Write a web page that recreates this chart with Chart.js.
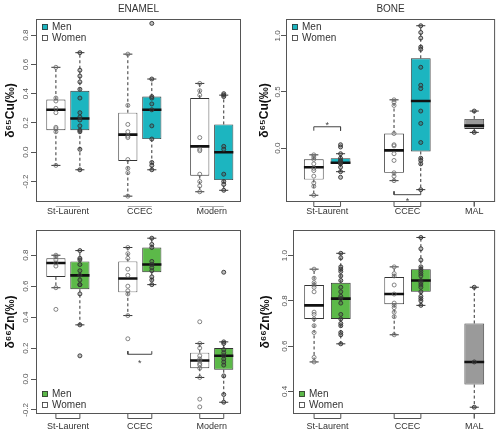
<!DOCTYPE html>
<html>
<head>
<meta charset="utf-8">
<script src="https://cdn.jsdelivr.net/npm/chart.js@4.4.1/dist/chart.umd.min.js"></script>
<style>
  body { margin: 0; background: #fff; }
  #wrap { position: relative; width: 500px; height: 430px; }
  canvas { position: absolute; }
</style>
</head>
<body>
<div id="wrap">
  <canvas id="cuEnamel" width="250" height="215" style="left:0;top:0"></canvas>
  <canvas id="cuBone" width="250" height="215" style="left:250px;top:0"></canvas>
  <canvas id="znEnamel" width="250" height="215" style="left:0;top:215px"></canvas>
  <canvas id="znBone" width="250" height="215" style="left:250px;top:215px"></canvas>
</div>
<script>
const legendLabels = ['Men', 'Women'];

// ENAMEL - d65Cu. stats rows are [min, q1, median, q3, max]
const cuEnamelGroups = ['St-Laurent', 'CCEC', 'Modern'];
const cuEnamelPos = [1, 2, 4, 5, 7, 8];
const cuEnamelSex = ['W', 'M', 'W', 'M', 'W', 'M'];
const cuEnamelStats = [
    [-0.09, 0.15, 0.29, 0.36, 0.58],
    [-0.12, 0.15, 0.23, 0.42, 0.68],
    [-0.30, -0.06, 0.12, 0.27, 0.67],
    [-0.12, 0.09, 0.29, 0.38, 0.50],
    [-0.27, -0.16, 0.04, 0.37, 0.47],
    [-0.26, -0.19, 0.00, 0.19, 0.39]
];
const cuEnamelPoints = [
    [0.58, 0.37, 0.35, 0.30, 0.27, 0.17, 0.16, 0.14, -0.09],
    [0.68, 0.56, 0.52, 0.48, 0.43, 0.37, 0.27, 0.24, 0.22, 0.18, 0.15, 0.14, 0.02, -0.12],
    [0.67, 0.32, 0.19, 0.14, 0.11, 0.10, -0.05, -0.11, -0.14, -0.30],
    [0.88, 0.50, 0.38, 0.37, 0.33, 0.29, 0.18, 0.09, -0.07, -0.09, -0.12],
    [0.47, 0.42, 0.39, 0.10, 0.02, 0.01, -0.15, -0.20, -0.23, -0.27],
    [0.40, 0.39, 0.38, 0.04, 0.02, -0.15, -0.20, -0.22, -0.26]
];
const cuEnamelTicks = [-0.2, 0, 0.2, 0.4, 0.6, 0.8];
const cuEnamelSig = [];

// BONE - d65Cu
const cuBoneGroups = ['St-Laurent', 'CCEC', 'MAL'];
const cuBonePos = [1, 2, 4, 5, 7];
const cuBoneSex = ['W', 'M', 'W', 'M', 'X'];
const cuBoneStats = [
    [-0.42, -0.28, -0.17, -0.10, -0.06],
    [-0.21, -0.14, -0.13, -0.09, -0.05],
    [-0.29, -0.22, -0.02, 0.13, 0.43],
    [-0.37, -0.03, 0.42, 0.80, 1.09],
    [0.14, 0.17, 0.20, 0.26, 0.33]
];
const cuBonePoints = [
    [-0.06, -0.08, -0.10, -0.14, -0.18, -0.20, -0.25, -0.31, -0.34, -0.42],
    [0.03, 0.01, -0.05, -0.09, -0.11, -0.12, -0.13, -0.14, -0.17, -0.21, -0.26],
    [0.43, 0.41, 0.38, 0.13, 0.03, 0.02, -0.05, -0.11, -0.22, -0.25, -0.29],
    [1.09, 1.03, 0.98, 0.90, 0.88, 0.72, 0.56, 0.53, 0.33, 0.22, 0.05, -0.09, -0.11, -0.14, -0.37],
    [0.33, 0.14]
];
const cuBoneTicks = [0, 0.5, 1];
// significance: [from, to, bar value, tick end value, star value]
const cuBoneSig = [[1, 2, 0.19, 0.155, 0.22], [4, 5, -0.415, -0.385, -0.455]];

// ENAMEL - d66Zn
const znEnamelGroups = ['St-Laurent', 'CCEC', 'Modern'];
const znEnamelPos = [1, 2, 4, 5, 7, 8];
const znEnamelSex = ['W', 'M', 'W', 'M', 'W', 'M'];
const znEnamelStats = [
    [0.59, 0.66, 0.75, 0.78, 0.80],
    [0.35, 0.58, 0.67, 0.76, 0.83],
    [0.41, 0.56, 0.65, 0.76, 0.85],
    [0.61, 0.69, 0.74, 0.85, 0.91],
    [0.01, 0.07, 0.12, 0.17, 0.23],
    [-0.15, 0.06, 0.15, 0.20, 0.24]
];
const znEnamelPoints = [
    [0.80, 0.79, 0.77, 0.75, 0.73, 0.59, 0.45],
    [0.83, 0.78, 0.77, 0.74, 0.70, 0.67, 0.64, 0.61, 0.61, 0.55, 0.35, 0.15],
    [0.85, 0.81, 0.78, 0.71, 0.67, 0.60, 0.57, 0.55, 0.41, 0.26],
    [0.91, 0.87, 0.85, 0.76, 0.74, 0.72, 0.70, 0.66, 0.64, 0.61],
    [0.37, 0.23, 0.20, 0.15, 0.13, 0.12, 0.10, 0.09, 0.07, 0.01, -0.13, -0.18],
    [0.69, 0.24, 0.23, 0.19, 0.17, 0.15, 0.13, 0.11, 0.09, 0.02, -0.10, -0.15]
];
const znEnamelTicks = [-0.2, 0, 0.2, 0.4, 0.6, 0.8];
const znEnamelSig = [[4, 5, 0.16, 0.18, 0.115]];

// BONE - d66Zn
const znBoneGroups = ['St-Laurent', 'CCEC', 'MAL'];
const znBonePos = [1, 2, 4, 5, 7];
const znBoneSex = ['W', 'M', 'W', 'M', 'X'];
const znBoneStats = [
    [0.53, 0.72, 0.78, 0.87, 0.94],
    [0.61, 0.72, 0.81, 0.88, 1.01],
    [0.65, 0.785, 0.83, 0.905, 0.95],
    [0.78, 0.84, 0.89, 0.94, 1.08],
    [0.33, 0.43, 0.53, 0.70, 0.86]
];
const znBonePoints = [
    [0.94, 0.90, 0.88, 0.87, 0.86, 0.84, 0.75, 0.74, 0.72, 0.69, 0.66, 0.55, 0.53],
    [1.01, 0.99, 0.95, 0.94, 0.93, 0.91, 0.89, 0.86, 0.84, 0.82, 0.81, 0.79, 0.74, 0.72, 0.70, 0.69, 0.66, 0.65, 0.61],
    [0.95, 0.92, 0.91, 0.87, 0.83, 0.79, 0.78, 0.77, 0.75, 0.73, 0.65],
    [1.08, 1.03, 0.98, 0.95, 0.94, 0.93, 0.92, 0.91, 0.89, 0.88, 0.87, 0.86, 0.84, 0.82, 0.81, 0.80, 0.78],
    [0.86, 0.53, 0.33]
];
const znBoneTicks = [0.4, 0.6, 0.8, 1.0];
const znBoneSig = [];

const TEAL = '#1cb5c0';
const GREEN = '#5cb949';
const GREY = '#9a9a9a';
const FONT = "'Liberation Sans', Arial, sans-serif";

// split positions into groups of neighbouring boxes
function groupsOf(pos) {
    const out = [];
    pos.forEach((x, i) => {
        if (i === 0 || x - pos[i - 1] > 1) out.push([x]);
        else out[out.length - 1].push(x);
    });
    return out;
}

function makeChart(id, p) {
    const fills = p.sex.map(s => s === 'W' ? '#ffffff' : (s === 'M' ? p.men : GREY));
    const boxes = p.pos.map((x, i) => ({ x: x, y: [p.stats[i][1], p.stats[i][3]] }));
    const whisk = [], caps = [], meds = [], women = [], men = [], sig = [];
    p.pos.forEach((x, i) => {
        const [mn, q1, md, q3, mx] = p.stats[i];
        whisk.push({ x, y: q3 }, { x, y: mx }, { x, y: null }, { x, y: q1 }, { x, y: mn }, { x, y: null });
        caps.push({ x: x - p.cap, y: mx }, { x: x + p.cap, y: mx }, { x, y: null },
                  { x: x - p.cap, y: mn }, { x: x + p.cap, y: mn }, { x, y: null });
        meds.push({ x: x - p.bar / 2, y: md }, { x: x + p.bar / 2, y: md }, { x, y: null });
        p.points[i].forEach(v => (p.sex[i] === 'W' ? women : men).push({ x, y: v }));
    });
    p.sig.forEach(s => {
        sig.push({ x: s[0], y: s[3] }, { x: s[0], y: s[2] }, { x: s[1], y: s[2] }, { x: s[1], y: s[3] }, { x: s[0], y: null });
    });
    const groups = groupsOf(p.pos);
    const centers = groups.map(g => (g[0] + g[g.length - 1]) / 2);

    const decor = {
        id: 'decor',
        afterDatasetsDraw(chart) {
            const { ctx, chartArea: a, scales: { x, y } } = chart;
            ctx.save();
            ctx.strokeStyle = '#555';
            ctx.lineWidth = 1;
            ctx.strokeRect(a.left + 0.5, a.top + 0.5, a.right - a.left - 1, a.bottom - a.top - 1);

            // group axis segments under the plot
            ctx.strokeStyle = p.axisColor;
            const yb = a.bottom + 4.5;
            groups.forEach(g => {
                const x0 = x.getPixelForValue(g[0]);
                const x1 = x.getPixelForValue(g[g.length - 1]);
                ctx.beginPath();
                if (p.axisTicks) {
                    ctx.moveTo(x0, a.bottom);
                    ctx.lineTo(x0, yb);
                    ctx.lineTo(x1, yb);
                    ctx.lineTo(x1, a.bottom);
                } else {
                    ctx.moveTo(x0, yb);
                    ctx.lineTo(x1, yb);
                }
                ctx.stroke();
            });

            // significance stars
            ctx.fillStyle = '#444';
            ctx.font = '9px ' + FONT;
            ctx.textAlign = 'center';
            ctx.textBaseline = 'middle';
            p.sig.forEach(s => {
                ctx.fillText('*', x.getPixelForValue((s[0] + s[1]) / 2), y.getPixelForValue(s[4]) + 2);
            });

            // legend
            const lx = a.left + 6;
            let ly = p.legendTop ? a.top + 8 : a.bottom - 20;
            ctx.font = '10px ' + FONT;
            ctx.textAlign = 'left';
            legendLabels.forEach((lab, k) => {
                ctx.fillStyle = k === 0 ? p.men : '#ffffff';
                ctx.fillRect(lx, ly - 3, 6, 6);
                ctx.strokeStyle = '#333';
                ctx.lineWidth = 0.8;
                ctx.strokeRect(lx + 0.5, ly - 2.5, 5, 5);
                ctx.fillStyle = '#333';
                ctx.fillText(lab, lx + 10, ly + 0.5);
                ly += 11;
            });
            ctx.restore();
        }
    };

    return new Chart(document.getElementById(id), {
        type: 'bar',
        data: {
            datasets: [
                {
                    type: 'line', data: whisk, borderColor: '#333', borderWidth: 1,
                    borderDash: [3, 2.5], pointRadius: 0, spanGaps: false, order: 5
                },
                {
                    type: 'line', data: caps, borderColor: '#333', borderWidth: 1,
                    pointRadius: 0, spanGaps: false, order: 5
                },
                {
                    type: 'line', data: sig, borderColor: '#444', borderWidth: 1,
                    pointRadius: 0, spanGaps: false, order: 5
                },
                {
                    data: boxes, backgroundColor: fills, borderColor: '#333', borderWidth: 0.9,
                    borderSkipped: false, barPercentage: p.bar, categoryPercentage: 1, order: 4
                },
                {
                    type: 'line', data: meds, borderColor: '#111', borderWidth: 2.6,
                    pointRadius: 0, spanGaps: false, order: 3
                },
                {
                    type: 'scatter', data: women, pointRadius: 2, borderWidth: 0.8,
                    borderColor: '#666', backgroundColor: 'rgba(255,255,255,0)', order: 2
                },
                {
                    type: 'scatter', data: men, pointRadius: 2, borderWidth: 0.9,
                    borderColor: '#333', backgroundColor: 'rgba(70,70,70,0.35)', order: 1
                }
            ]
        },
        options: {
            responsive: false,
            animation: false,
            events: [],
            layout: { padding: { top: p.title ? 0 : p.top, right: p.right, left: 0, bottom: 0 } },
            plugins: {
                legend: { display: false },
                tooltip: { enabled: false },
                title: {
                    display: !!p.title, text: p.title, fullSize: false, color: '#333',
                    font: { family: FONT, size: 10, weight: 'normal' }, padding: { top: 3, bottom: 4 }
                }
            },
            scales: {
                x: {
                    type: 'linear', min: p.xmin, max: p.xmax, offset: false,
                    grid: { display: false, drawTicks: false, offset: false },
                    border: { display: false },
                    afterBuildTicks: s => { s.ticks = centers.map(v => ({ value: v })); },
                    afterFit: s => { s.height = p.xh; },
                    ticks: {
                        autoSkip: false, padding: p.xpad, color: '#333',
                        font: { family: FONT, size: 9 },
                        callback: (v, i) => p.groups[i]
                    }
                },
                y: {
                    min: p.ymin, max: p.ymax,
                    grid: { drawOnChartArea: false, tickLength: 5, color: '#555', tickColor: '#555' },
                    border: { display: false },
                    afterBuildTicks: s => { s.ticks = p.ticks.map(v => ({ value: v })); },
                    afterFit: s => { s.width = p.left; },
                    ticks: {
                        minRotation: 90, maxRotation: 90, crossAlign: 'center', padding: -2,
                        color: '#555', font: { family: FONT, size: 8 },
                        callback: v => v.toFixed(1)
                    },
                    title: {
                        display: true, text: p.ytitle, color: '#111',
                        font: { family: FONT, size: 12, weight: 'bold' },
                        padding: { top: p.ytpad, bottom: 0 }
                    }
                }
            }
        },
        plugins: [decor]
    });
}

makeChart('cuEnamel', {
    groups: cuEnamelGroups, pos: cuEnamelPos, sex: cuEnamelSex, stats: cuEnamelStats,
    points: cuEnamelPoints, ticks: cuEnamelTicks, sig: cuEnamelSig,
    title: 'ENAMEL', ytitle: 'δ⁶⁵Cu(‰)', men: TEAL, legendTop: true,
    xmin: 0.17, xmax: 8.72, ymin: -0.34, ymax: 0.91,
    bar: 0.8, cap: 0.19, left: 36, right: 9, xh: 13, xpad: 4, ytpad: 3,
    axisColor: '#aaa', axisTicks: false
});

makeChart('cuBone', {
    groups: cuBoneGroups, pos: cuBonePos, sex: cuBoneSex, stats: cuBoneStats,
    points: cuBonePoints, ticks: cuBoneTicks, sig: cuBoneSig,
    title: 'BONE', ytitle: 'δ⁶⁵Cu(‰)', men: TEAL, legendTop: true,
    xmin: -0.04, xmax: 7.78, ymin: -0.48, ymax: 1.15,
    bar: 0.74, cap: 0.17, left: 36, right: 2, xh: 13, xpad: 4, ytpad: 7,
    axisColor: '#555', axisTicks: true
});

makeChart('znEnamel', {
    groups: znEnamelGroups, pos: znEnamelPos, sex: znEnamelSex, stats: znEnamelStats,
    points: znEnamelPoints, ticks: znEnamelTicks, sig: znEnamelSig,
    title: '', ytitle: 'δ⁶⁶Zn(‰)', men: GREEN, legendTop: false, top: 15,
    xmin: 0.17, xmax: 8.72, ymin: -0.226, ymax: 0.963,
    bar: 0.8, cap: 0.19, left: 36, right: 9, xh: 16, xpad: 7, ytpad: 3,
    axisColor: '#555', axisTicks: true
});

makeChart('znBone', {
    groups: znBoneGroups, pos: znBonePos, sex: znBoneSex, stats: znBoneStats,
    points: znBonePoints, ticks: znBoneTicks, sig: znBoneSig,
    title: '', ytitle: 'δ⁶⁶Zn(‰)', men: GREEN, legendTop: false, top: 15,
    xmin: 0.21, xmax: 7.78, ymin: 0.30, ymax: 1.113,
    bar: 0.74, cap: 0.17, left: 43, right: 2, xh: 16, xpad: 7, ytpad: 8,
    axisColor: '#555', axisTicks: true
});
</script>
</body>
</html>
